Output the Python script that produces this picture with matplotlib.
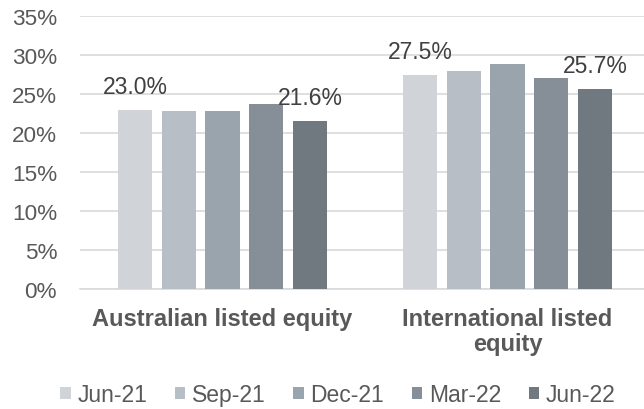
import numpy as np
import matplotlib.pyplot as plt
from matplotlib.patches import Patch

categories = ["Australian listed equity", "International listed\nequity"]
periods = ["Jun-21", "Sep-21", "Dec-21", "Mar-22", "Jun-22"]
values = {
    "Jun-21": [23.0, 27.5],
    "Sep-21": [22.8, 27.9],
    "Dec-21": [22.8, 28.8],
    "Mar-22": [23.7, 27.0],
    "Jun-22": [21.6, 25.7],
}
colors = ["#d0d4d8", "#b8bec5", "#99a4ac", "#868f97", "#6f797f"]

plt.rcParams['font.family'] = ['Liberation Sans', 'DejaVu Sans']

fig = plt.figure(figsize=(6.44, 4.10), dpi=100)
ax = fig.add_axes([80 / 644, 1 - 290 / 410, 570 / 644, 273 / 410])

x = np.arange(len(categories))
pitch = 0.1535
width = 0.12
for i, p in enumerate(periods):
    pos = x + (i - 2) * pitch
    ax.bar(pos, values[p], width=width, color=colors[i], zorder=3)
    # Excel-style labels only on first and last series
    if i in (0, len(periods) - 1):
        for xx, v in zip(pos, values[p]):
            ax.annotate(f"{v:.1f}%", (xx, v), xytext=(0, 12), textcoords="offset points",
                        ha="center", va="baseline", fontsize=16.5, color="#404040")

ax.set_xlim(-0.5, 1.5)
ax.set_ylim(0, 35)
ax.set_yticks(range(0, 36, 5))
ax.set_yticklabels([f"{t}%" for t in range(0, 36, 5)])
ax.yaxis.grid(True, color="#d9d9d9", linewidth=1.2, zorder=0)
ax.set_axisbelow(True)
for s in ["top", "right", "left"]:
    ax.spines[s].set_visible(False)
ax.spines["bottom"].set_color("#d9d9d9")
ax.spines["bottom"].set_linewidth(1.2)
ax.tick_params(axis="y", length=0, pad=16.5, labelsize=16.2, labelcolor="#595959")
ax.tick_params(axis="x", length=0, pad=13)
ax.set_xticks(x)
ax.set_xticklabels(categories, fontsize=17, fontweight="bold", color="#595959",
                   linespacing=1.12, va="top")

handles = [Patch(facecolor=c, edgecolor="none") for c in colors]
fig.legend(handles, periods, loc="center", bbox_to_anchor=(338 / 644, 1 - 396 / 410),
           ncol=5, frameon=False, fontsize=16.5, labelcolor="#595959",
           handlelength=0.45, handleheight=0.45, handletextpad=0.3, columnspacing=1.2)

fig.savefig("out.png", dpi=100)
